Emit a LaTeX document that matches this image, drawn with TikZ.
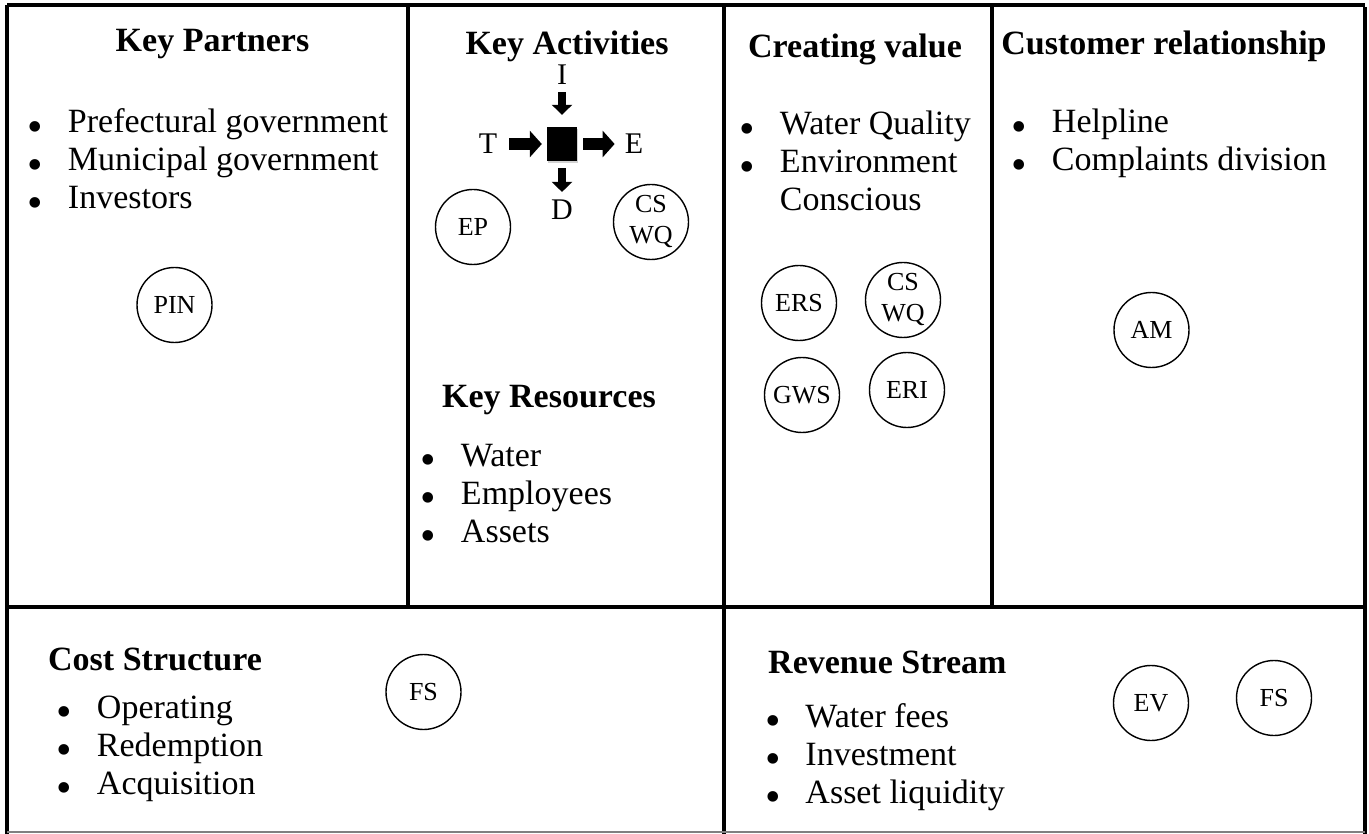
\documentclass[tikz,border=0pt]{standalone}
\usepackage{fontspec}
\setmainfont{Liberation Serif}
\usetikzlibrary{arrows.meta,shadows}
\newcommand{\bul}{\raisebox{-0.25em}{\scalebox{1.3}{\textbullet}}}
\newcommand{\blist}[1]{\begin{tabular}[t]{@{}l@{\hspace{25pt}}l@{}}#1\end{tabular}}
\tikzset{
  frame/.style={line width=3.5pt, line cap=rect},
  title/.style={font=\fontsize{34}{38}\selectfont\bfseries, inner sep=0pt, anchor=base},
  lst/.style={font=\fontsize{34}{38}\selectfont, inner sep=0pt, anchor=base west},
  circ/.style={draw, circle, minimum size=75pt, inner sep=0pt, line width=1.4pt,
    font=\fontsize{26}{31}\selectfont, align=center},
  letter/.style={font=\fontsize{30}{34}\selectfont, inner sep=0pt},
  sqbox/.style={fill=black, minimum width=30pt, minimum height=34pt, inner sep=0pt,
    drop shadow={shadow xshift=1pt, shadow yshift=-2pt, opacity=0.35}},
  blockh/.style={line width=12pt, -{Triangle[length=12pt,width=26pt]}},
  blockv/.style={line width=8.5pt, -{Triangle[length=10pt,width=20pt]}}
}
\begin{document}
\begin{tikzpicture}[x=1pt,y=-1pt]
\useasboundingbox (0,0) rectangle (1369,834);
\fill[white] (0,0) rectangle (1369,834);

% frame
\draw[frame] (9,5) -- (1363,5);
\draw[frame] (7,7) -- (7,834);
\draw[frame] (408,7) -- (408,607);
\draw[frame] (7,607) -- (1365,607);
\draw[frame] (724,7) -- (724,834);
\draw[frame] (992,7) -- (992,607);
\draw[frame] (1365,9) -- (1365,834);
\draw[line width=1.5pt, gray] (7,832) -- (1365,832);

% Key Partners
\node[title] (kpT) at (212.5,52) {Key Partners};
\node[lst] (kpL) at (27.3,133) {\blist{\bul & Prefectural government\\ \bul & Municipal government\\ \bul & Investors}};
\node[circ] (pin) at (174.5,305) {PIN};

% Key Activities
\node[title] (kaT) at (567,55) {Key Activities};
\node[sqbox] (sq) at (562,144) {};
\node[letter] (I) at (562,75) {I};
\node[letter] (T) at (488,144) {T};
\node[letter] (E) at (634,144) {E};
\node[letter] (D) at (562,210) {D};
\draw[blockh, shorten <=12pt, shorten >=5pt] (T) -- (sq);
\draw[blockh, shorten <=6pt, shorten >=10pt] (sq) -- (E);
\draw[blockv, shorten <=7pt, shorten >=12pt] (I) -- (sq);
\draw[blockv, shorten <=7pt, shorten >=8pt] (sq) -- (D);
\node[circ] (ep) at (473,227) {EP};
\node[circ] (cswq1) at (651,222) {CS\\WQ};

% Key Resources
\node[title] (krT) at (549,407) {Key Resources};
\node[lst] (krL) at (420.3,466) {\blist{\bul & Water\\ \bul & Employees\\ \bul & Assets}};

% Creating value
\node[title] (cvT) at (855,58) {Creating value};
\node[lst] (cvL) at (739.3,135) {\blist{\bul & Water Quality\\ \bul & Environment\\ & Conscious}};
\node[circ] (ers) at (799,303) {ERS};
\node[circ] (cswq2) at (903,300) {CS\\WQ};
\node[circ] (gws) at (802,395) {GWS};
\node[circ] (eri) at (907,390) {ERI};

% Customer relationship
\node[title] (crT) at (1164,55) {Customer relationship};
\node[lst] (crL) at (1011.3,133) {\blist{\bul & Helpline\\ \bul & Complaints division}};
\node[circ] (am) at (1151.5,330) {AM};

% Cost Structure
\node[title, anchor=base west] (csT) at (48,670) {Cost Structure};
\node[lst] (csL) at (56.3,718) {\blist{\bul & Operating\\ \bul & Redemption\\ \bul & Acquisition}};
\node[circ] (fs1) at (423.5,692) {FS};

% Revenue Stream
\node[title, anchor=base west] (rsT) at (768,673) {Revenue Stream};
\node[lst] (rsL) at (764.8,727) {\blist{\bul & Water fees\\ \bul & Investment\\ \bul & Asset liquidity}};
\node[circ] (ev) at (1151,703) {EV};
\node[circ] (fs2) at (1274,698) {FS};
\end{tikzpicture}
\end{document}
